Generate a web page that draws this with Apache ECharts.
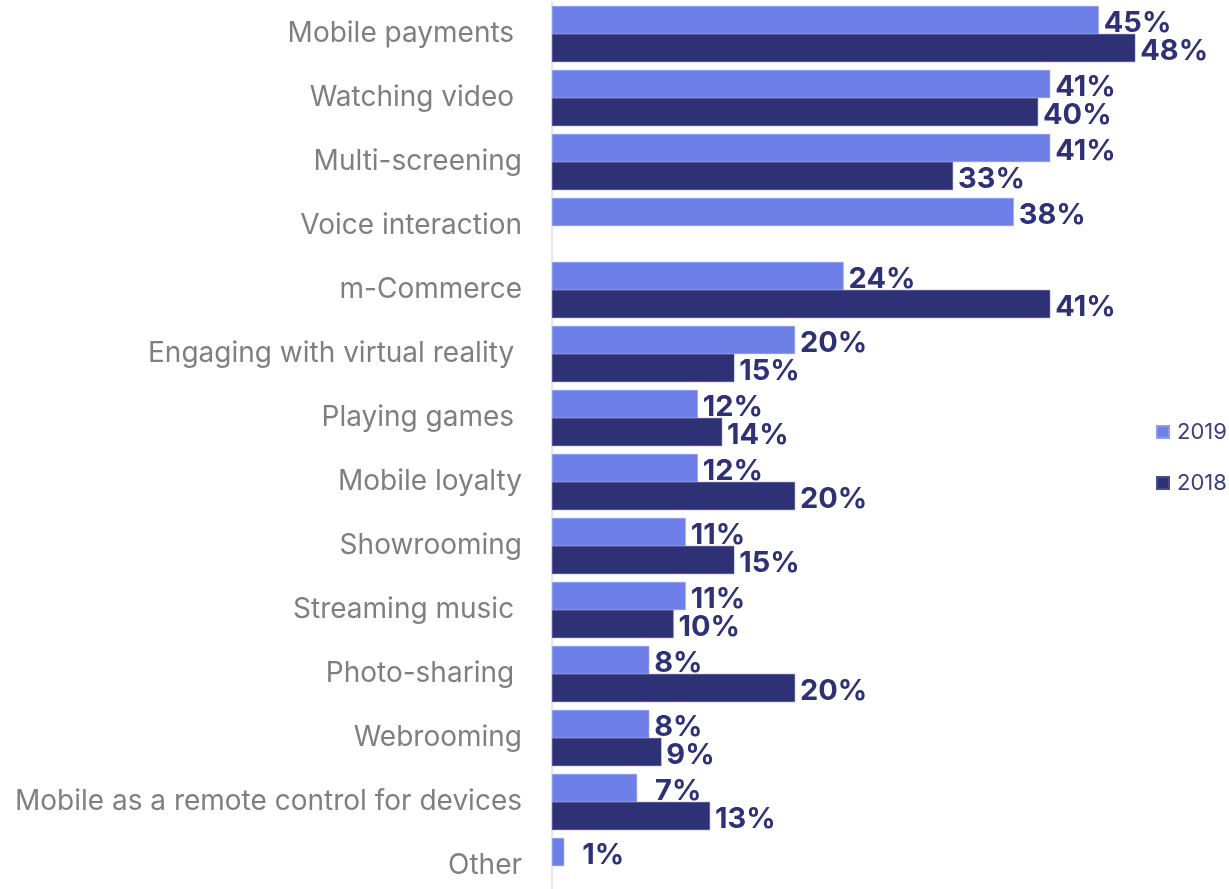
<!DOCTYPE html>
<html>
<head>
<meta charset="utf-8">
<script src="https://cdn.jsdelivr.net/npm/echarts@6/dist/echarts.min.js"></script>
<style>
  html, body { margin: 0; padding: 0; background: #ffffff; }
  #chart { width: 1229px; height: 889px; }
</style>
</head>
<body>
<div id="chart"></div>
<script>
// Activities on mobile, share of respondents (%)
const categories = [
  'Mobile payments ',
  'Watching video ',
  'Multi-screening',
  'Voice interaction',
  'm-Commerce',
  'Engaging with virtual reality ',
  'Playing games ',
  'Mobile loyalty',
  'Showrooming',
  'Streaming music ',
  'Photo-sharing ',
  'Webrooming',
  'Mobile as a remote control for devices',
  'Other'
];
const values2019 = [45, 41, 41, 38, 24, 20, 12, 12, 11, 11, 8, 8, 7, 1];
const values2018 = [48, 40, 33, null, 41, 15, 14, 20, 15, 10, 20, 9, 13, null];
const seriesNames = ['2019', '2018'];

const colors = ['#6e80e8', '#2e3175'];
const fontFamily = 'Inter, "Noto Sans", sans-serif';

const valueLabel = {
  show: true,
  position: 'right',
  distance: 5,
  offset: [0, 3],
  color: '#2e3175',
  fontFamily: fontFamily,
  fontWeight: 'bold',
  fontSize: 29,
  formatter: p => (p.value == null ? '' : p.value + '%')
};

// the two shortest bars at the bottom carry their labels a little further out
const wideLabelRows = [12, 13];
const series2019Data = values2019.map((v, i) =>
  wideLabelRows.includes(i) ? { value: v, label: { distance: 18 } } : v);

const chart = echarts.init(document.getElementById('chart'), null, { renderer: 'canvas' });
chart.setOption({
  animation: false,
  backgroundColor: '#ffffff',
  grid: { left: 552, top: 2, width: 607.5, height: 896, outerBoundsMode: 'none', containLabel: false },
  legend: {
    orient: 'vertical',
    left: 1156,
    top: 421,
    padding: 0,
    itemWidth: 12,
    itemHeight: 12,
    itemGap: 29,
    icon: 'rect',
    data: seriesNames,
    textStyle: { color: '#3b3f7e', fontSize: 22, fontFamily: fontFamily, padding: [0, 0, 0, 3] }
  },
  xAxis: {
    type: 'value',
    min: 0,
    max: 50,
    show: false
  },
  yAxis: {
    type: 'category',
    inverse: true,
    data: categories,
    axisLine: { show: true, lineStyle: { color: '#e6e6f2', width: 2 } },
    axisTick: { show: false },
    axisLabel: {
      margin: 30,
      color: '#7f7f7f',
      fontSize: 28,
      fontFamily: fontFamily,
      padding: [4, 0, 0, 0]
    }
  },
  series: [
    {
      name: seriesNames[0],
      type: 'bar',
      data: series2019Data,
      barWidth: 28,
      barGap: '0%',
      barCategoryGap: '12.5%',
      itemStyle: { color: colors[0], borderColor: '#8d9bee', borderWidth: 0.5 },
      label: valueLabel
    },
    {
      name: seriesNames[1],
      type: 'bar',
      data: values2018,
      barWidth: 28,
      barGap: '0%',
      itemStyle: { color: colors[1], borderColor: '#4a4d8c', borderWidth: 0.5 },
      label: valueLabel
    }
  ]
});
</script>
</body>
</html>
